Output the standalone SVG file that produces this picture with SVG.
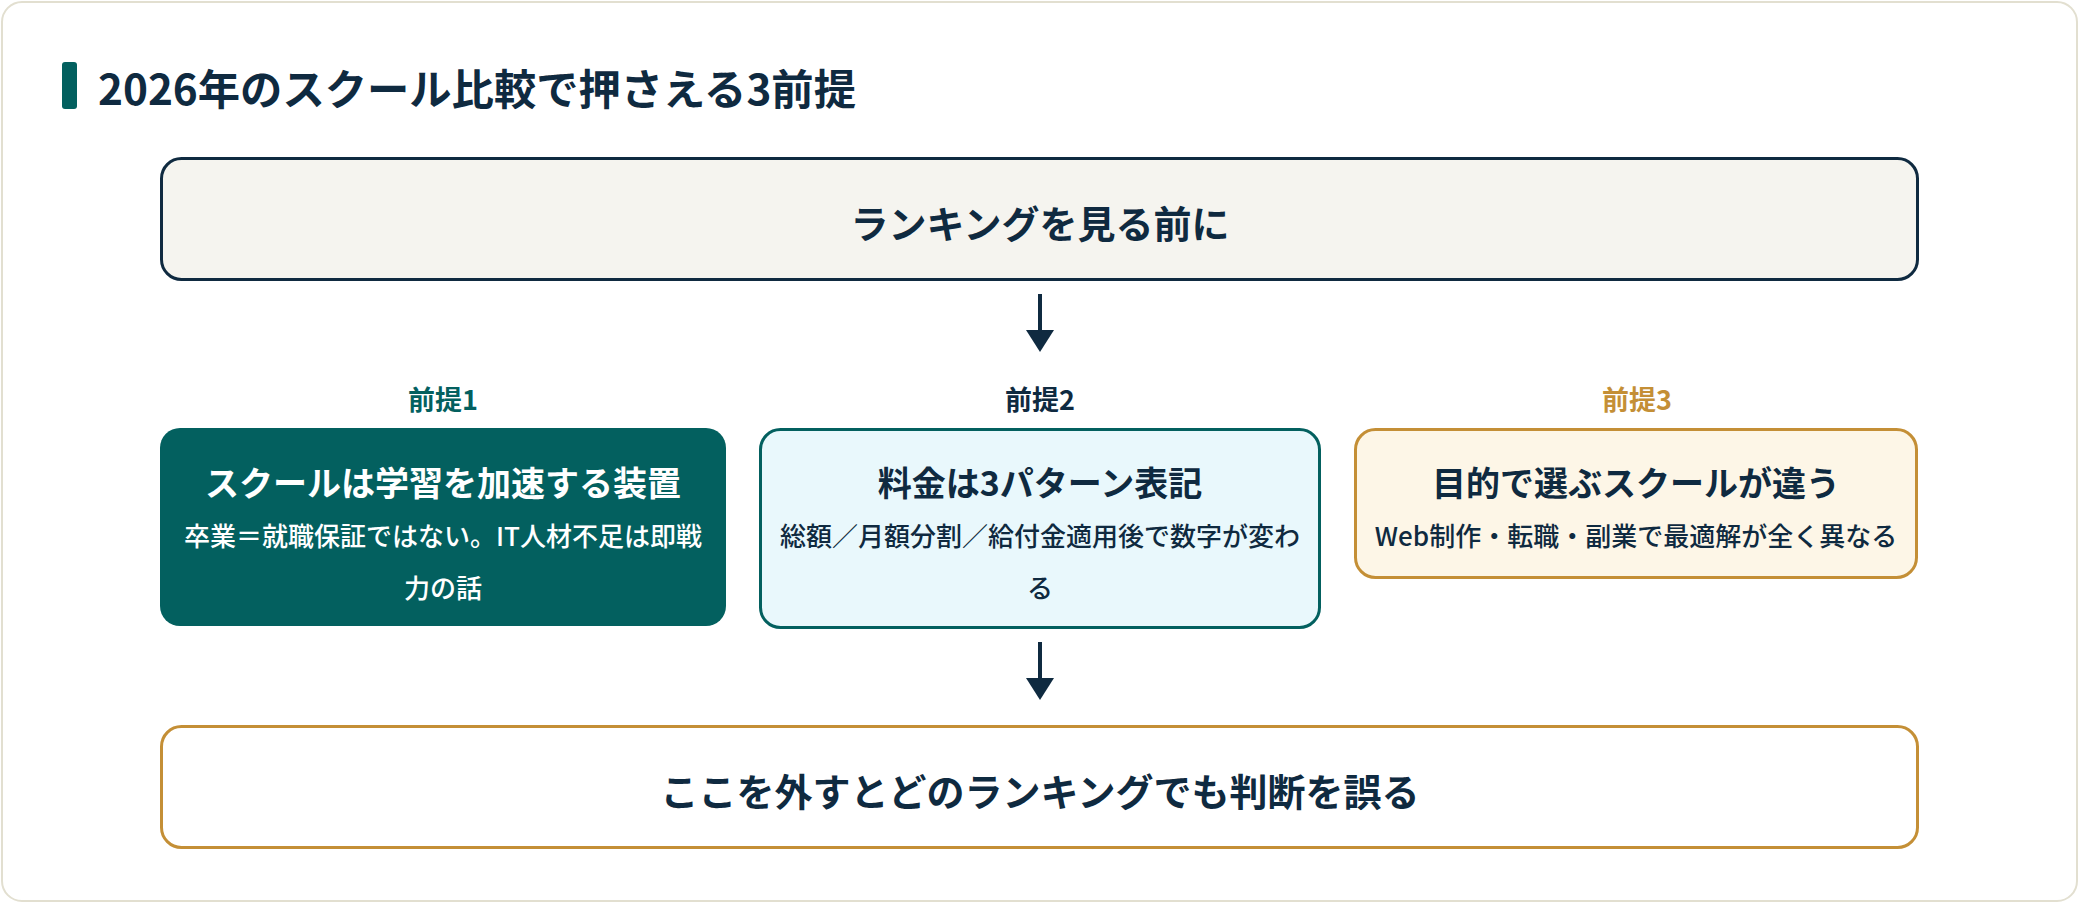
<svg xmlns="http://www.w3.org/2000/svg" width="2080" height="904" viewBox="0 0 2080 904">
  <defs>
    <style>
      .jp { font-family: "Noto Sans CJK JP", "Noto Sans", sans-serif; }
      .b { font-weight: 700; }
      .m { font-weight: 500; }
      .navy { fill: #0f2a40; }
      .teal { fill: #03605f; }
      .gold { fill: #c48f36; }
      .white { fill: #ffffff; }
      .big { font-size: 38px; }
      .ttl { font-size: 34px; }
      .sub { font-size: 26px; }
      .lbl { font-size: 27px; }
      .conn { stroke: #0f2a40; stroke-width: 4; fill: none; }
      .head { fill: #0f2a40; }
    </style>
  </defs>

  <rect x="0" y="0" width="2080" height="904" fill="#ffffff"/>
  <rect id="card" x="2" y="2" width="2075" height="899" rx="20" ry="20" fill="#ffffff" stroke="#e2dfd0" stroke-width="2"/>

  <g id="header">
    <rect x="62" y="62" width="15" height="47" rx="3" fill="#03605f"/>
    <text class="jp b navy" x="98" y="86" font-size="42.3" dominant-baseline="central">2026年のスクール比較で押さえる3前提</text>
  </g>

  <g id="node-top">
    <rect x="161.5" y="158.5" width="1756" height="121" rx="20" ry="20" fill="#f5f4ef" stroke="#0f2a40" stroke-width="3"/>
    <text class="jp b navy big" x="1040" y="221" text-anchor="middle" dominant-baseline="central">ランキングを見る前に</text>
  </g>

  <g id="connectors">
    <line class="conn" x1="1040" y1="294" x2="1040" y2="332"/>
    <polygon class="head" points="1026,330 1054,330 1040,352"/>
    <line class="conn" x1="1040" y1="642" x2="1040" y2="680"/>
    <polygon class="head" points="1026,678 1054,678 1040,700"/>
  </g>

  <g id="node-premise1">
    <text class="jp b teal lbl" x="443" y="398" text-anchor="middle" dominant-baseline="central">前提1</text>
    <rect x="160" y="428" width="566" height="198" rx="20" ry="20" fill="#03605f"/>
    <text class="jp b white ttl" x="443" y="481" text-anchor="middle" dominant-baseline="central">スクールは学習を加速する装置</text>
    <text class="jp m white sub" x="443" y="534" text-anchor="middle" dominant-baseline="central">卒業＝就職保証ではない。IT人材不足は即戦</text>
    <text class="jp m white sub" x="443" y="586" text-anchor="middle" dominant-baseline="central">力の話</text>
  </g>

  <g id="node-premise2">
    <text class="jp b navy lbl" x="1040" y="398" text-anchor="middle" dominant-baseline="central">前提2</text>
    <rect x="760.5" y="429.5" width="559" height="198" rx="20" ry="20" fill="#e9f8fc" stroke="#03605f" stroke-width="3"/>
    <text class="jp b navy ttl" x="1040" y="481" text-anchor="middle" dominant-baseline="central">料金は3パターン表記</text>
    <text class="jp m navy sub" x="1040" y="534" text-anchor="middle" dominant-baseline="central">総額／月額分割／給付金適用後で数字が変わ</text>
    <text class="jp m navy sub" x="1040" y="586" text-anchor="middle" dominant-baseline="central">る</text>
  </g>

  <g id="node-premise3">
    <text class="jp b gold lbl" x="1637" y="398" text-anchor="middle" dominant-baseline="central">前提3</text>
    <rect x="1355.5" y="429.5" width="561" height="148" rx="20" ry="20" fill="#fdf6e7" stroke="#c48f36" stroke-width="3"/>
    <text class="jp b navy ttl" x="1636" y="481" text-anchor="middle" dominant-baseline="central">目的で選ぶスクールが違う</text>
    <text class="jp m navy sub" x="1636" y="534" text-anchor="middle" dominant-baseline="central">Web制作・転職・副業で最適解が全く異なる</text>
  </g>

  <g id="node-bottom">
    <rect x="161.5" y="726.5" width="1756" height="121" rx="20" ry="20" fill="#ffffff" stroke="#c48f36" stroke-width="3"/>
    <text class="jp b navy big" x="1040" y="789" text-anchor="middle" dominant-baseline="central">ここを外すとどのランキングでも判断を誤る</text>
  </g>
</svg>
